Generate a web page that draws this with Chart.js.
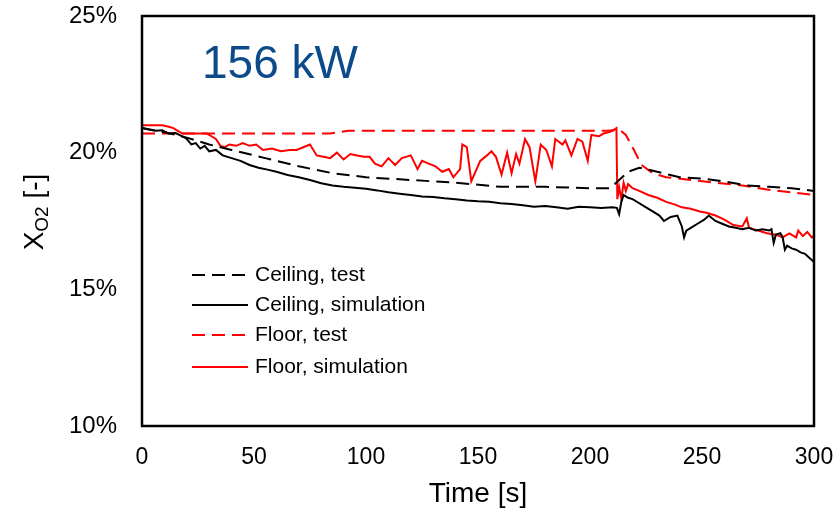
<!DOCTYPE html>
<html>
<head>
<meta charset="utf-8">
<script src="https://cdn.jsdelivr.net/npm/chart.js@4.4.1/dist/chart.umd.min.js"></script>
<style>
  html, body { margin: 0; padding: 0; background: #fff; }
  #wrap { width: 840px; height: 512px; }
</style>
</head>
<body>
<div id="wrap"><canvas id="o2Chart" width="840" height="512"></canvas></div>
<script>
// Ceiling, test (dashed black)
var ceilTestT = [0, 10, 20, 30, 40, 55, 70, 85, 100, 120, 140, 160, 180, 200, 209, 213, 217, 222, 230, 240, 250, 260, 270, 280, 290, 300];
var ceilTestY = [20.9, 20.75, 20.55, 20.3, 20.1, 19.8, 19.5, 19.25, 19.1, 19.0, 18.9, 18.75, 18.75, 18.7, 18.7, 19.0, 19.3, 19.45, 19.3, 19.1, 19.05, 18.95, 18.8, 18.75, 18.7, 18.6];

// Ceiling, simulation (solid black)
var ceilSimT = [0, 3, 6, 9, 12, 15, 18, 20, 22, 24, 26, 28, 30, 33, 36, 40, 44, 48, 52, 56, 60, 65, 70, 75, 80, 85, 90, 95, 100, 105, 110, 115, 120, 125, 130, 135, 140, 145, 150, 155, 160, 165, 170, 175, 180, 185, 190, 195, 200, 205, 210, 212, 213, 214, 215, 217, 219, 222, 225, 228, 231, 233, 236, 239, 241, 242, 243, 245, 248, 251, 253, 256, 259, 262, 265, 268, 271, 274, 277, 280, 281, 282, 283, 285, 286, 287, 288, 290, 292, 294, 296, 298, 300];
var ceilSimY = [20.9, 20.85, 20.8, 20.82, 20.7, 20.72, 20.6, 20.5, 20.3, 20.35, 20.15, 20.25, 20.05, 20.1, 19.9, 19.8, 19.7, 19.55, 19.45, 19.38, 19.3, 19.18, 19.1, 19.0, 18.88, 18.8, 18.75, 18.72, 18.68, 18.62, 18.55, 18.5, 18.45, 18.4, 18.38, 18.33, 18.3, 18.25, 18.22, 18.2, 18.15, 18.12, 18.08, 18.02, 18.05, 18.0, 17.95, 18.02, 18.0, 17.98, 18.0, 17.98, 17.75, 18.2, 18.45, 18.35, 18.3, 18.15, 18.0, 17.85, 17.7, 17.5, 17.65, 17.7, 17.3, 16.9, 17.15, 17.25, 17.4, 17.55, 17.7, 17.5, 17.4, 17.3, 17.25, 17.2, 17.25, 17.15, 17.2, 17.15, 17.2, 16.7, 17.0, 17.05, 16.9, 16.45, 16.6, 16.5, 16.45, 16.35, 16.3, 16.15, 16.0];

// Floor, test (dashed red)
var floorTestT = [0, 40, 84, 92, 150, 208, 213, 216, 219, 223, 228, 234, 245, 256, 268, 279, 290, 300];
var floorTestY = [20.7, 20.7, 20.7, 20.8, 20.8, 20.8, 20.85, 20.65, 20.2, 19.55, 19.25, 19.1, 19.0, 18.9, 18.8, 18.65, 18.55, 18.45];

// Floor, simulation (solid red)
var floorSimT = [0, 5, 9, 12, 14, 16, 18, 25, 29, 31, 33, 35, 37, 39, 42, 45, 48, 51, 54, 58, 62, 66, 69, 72, 75, 78, 81, 84, 87, 90, 93, 96, 99, 101.6, 104, 107, 110, 113, 116, 120, 123, 125, 128, 131, 134, 137, 139, 142, 143, 145, 147, 151, 154, 156, 158, 160.5, 163, 165, 167, 168.5, 171, 173, 175.6, 178, 180.5, 183, 184.5, 187.7, 189, 191.7, 194.4, 196.6, 199, 200.6, 204, 206, 208.6, 210, 211.8, 212.2, 213, 214, 215, 216, 217, 219, 222, 226, 230, 234, 238, 241, 245, 249, 252, 256, 260, 264, 268, 270, 271, 275, 279, 283, 286, 289, 292, 293, 295, 297, 299, 300];
var floorSimY = [21.0, 21.0, 21.0, 20.95, 20.9, 20.8, 20.7, 20.7, 20.7, 20.6, 20.5, 20.25, 20.2, 20.3, 20.25, 20.35, 20.25, 20.3, 20.1, 20.15, 20.05, 20.1, 20.1, 20.2, 20.3, 19.9, 19.85, 19.8, 20.0, 19.75, 19.95, 19.9, 19.85, 19.85, 19.6, 19.5, 19.8, 19.55, 19.8, 19.9, 19.4, 19.7, 19.6, 19.5, 19.3, 19.4, 19.1, 19.4, 20.3, 20.2, 18.95, 19.7, 19.9, 20.05, 19.85, 19.2, 20.0, 19.25, 19.95, 19.6, 20.5, 20.2, 18.95, 20.3, 20.1, 19.5, 20.5, 20.3, 20.45, 19.9, 20.5, 20.4, 19.7, 20.65, 20.6, 20.7, 20.75, 20.8, 20.9, 18.3, 18.75, 18.3, 18.9, 18.6, 18.85, 18.7, 18.6, 18.45, 18.35, 18.2, 18.1, 18.0, 17.95, 17.85, 17.8, 17.7, 17.55, 17.35, 17.3, 17.6, 17.25, 17.15, 17.05, 17.0, 16.9, 17.05, 16.9, 17.15, 16.95, 17.1, 16.9, 16.95];

var yTicks = [10, 15, 20, 25];
var xTicks = [0, 50, 100, 150, 200, 250, 300];

var seriesNames = ['Ceiling, test', 'Ceiling, simulation', 'Floor, test', 'Floor, simulation'];

function pts(t, y) {
    return t.map(function(v, i) { return { x: v, y: y[i] }; });
}

var FONT = 'Arial, "Liberation Sans", sans-serif';

// frame, title, axis titles and legend
var decor = {
    id: 'decor',
    afterDraw: function(chart) {
        var c = chart.ctx;
        var a = chart.chartArea;
        c.save();
        c.strokeStyle = '#000';
        c.lineWidth = 2.5;
        c.strokeRect(a.left, a.top, a.right - a.left, a.bottom - a.top);

        c.fillStyle = '#0C4A8A';
        c.font = '46px ' + FONT;
        c.textBaseline = 'alphabetic';
        c.textAlign = 'left';
        c.fillText('156 kW', 202, 78);

        c.fillStyle = '#000';
        c.font = '28px ' + FONT;
        c.textAlign = 'center';
        c.fillText('Time [s]', (a.left + a.right) / 2, 502);

        // y title with subscript
        c.save();
        c.translate(43, 212);
        c.rotate(-Math.PI / 2);
        c.textAlign = 'left';
        c.font = '28px ' + FONT;
        var w1 = c.measureText('X').width;
        c.font = '19px ' + FONT;
        var w2 = c.measureText('O2').width;
        c.font = '28px ' + FONT;
        var w3 = c.measureText(' [-]').width;
        var x0 = -(w1 + w2 + w3) / 2;
        c.fillText('X', x0, 0);
        c.font = '19px ' + FONT;
        c.fillText('O2', x0 + w1, 5);
        c.font = '28px ' + FONT;
        c.fillText(' [-]', x0 + w1 + w2, 0);
        c.restore();

        // legend
        c.font = '21px ' + FONT;
        c.textAlign = 'left';
        c.textBaseline = 'middle';
        var ly = [275, 305, 335, 367];
        chart.data.datasets.forEach(function(ds, i) {
            c.beginPath();
            c.strokeStyle = ds.borderColor;
            c.lineWidth = 2;
            c.setLineDash(ds.borderDash || []);
            c.moveTo(192, ly[i]);
            c.lineTo(248, ly[i]);
            c.stroke();
            c.setLineDash([]);
            c.fillStyle = '#000';
            c.fillText(ds.label, 255, ly[i]);
        });
        c.restore();
    }
};

var ctx = document.getElementById('o2Chart').getContext('2d');
var chart = new Chart(ctx, {
    type: 'line',
    data: {
        datasets: [
            { label: seriesNames[0], data: pts(ceilTestT, ceilTestY), borderColor: '#000000', borderWidth: 2, borderDash: [13, 7] },
            { label: seriesNames[1], data: pts(ceilSimT, ceilSimY), borderColor: '#000000', borderWidth: 2 },
            { label: seriesNames[2], data: pts(floorTestT, floorTestY), borderColor: '#FF0000', borderWidth: 2, borderDash: [13, 7] },
            { label: seriesNames[3], data: pts(floorSimT, floorSimY), borderColor: '#FF0000', borderWidth: 2 }
        ]
    },
    options: {
        responsive: false,
        animation: false,
        parsing: false,
        elements: { point: { radius: 0 }, line: { tension: 0, fill: false } },
        layout: { padding: { top: 16, right: 26, left: 0, bottom: 0 } },
        plugins: {
            legend: { display: false },
            tooltip: { enabled: false }
        },
        scales: {
            x: {
                type: 'linear',
                min: 0,
                max: 300,
                grid: { display: false, drawTicks: false },
                border: { display: false },
                afterBuildTicks: function(s) { s.ticks = xTicks.map(function(v) { return { value: v }; }); },
                ticks: { color: '#000', padding: 18, maxRotation: 0, font: { size: 23, family: FONT } },
                afterFit: function(s) { s.height = 86; s.paddingLeft = 0; s.paddingRight = 0; }
            },
            y: {
                min: 10,
                max: 25,
                grid: { display: false, drawTicks: false },
                border: { display: false },
                afterBuildTicks: function(s) { s.ticks = yTicks.map(function(v) { return { value: v }; }); },
                ticks: {
                    color: '#000',
                    padding: 25,
                    font: { size: 24, family: FONT },
                    callback: function(v) { return v + '%'; }
                },
                afterFit: function(s) { s.width = 142; s.paddingTop = 0; s.paddingBottom = 0; }
            }
        }
    },
    plugins: [decor]
});
</script>
</body>
</html>
